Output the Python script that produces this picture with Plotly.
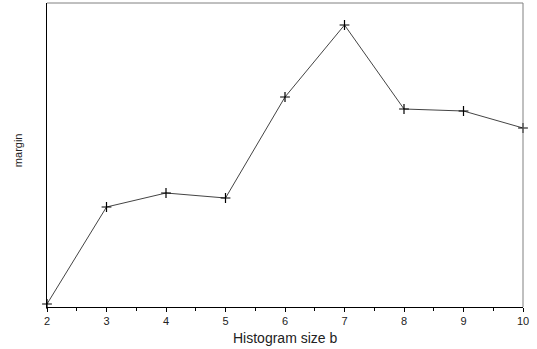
import plotly.graph_objects as go

histogram_size = [2, 3, 4, 5, 6, 7, 8, 9, 10]
margin_values = [0.03, 1.00, 1.14, 1.09, 2.10, 2.82, 1.98, 1.96, 1.79]
x_ticks = [2, 3, 4, 5, 6, 7, 8, 9, 10]

fig = go.Figure()
fig.add_trace(go.Scatter(
    x=histogram_size, y=margin_values, mode="lines+markers",
    line=dict(color="#444444", width=1),
    marker=dict(symbol="cross-thin", size=7, line=dict(color="black", width=1.2)),
    cliponaxis=False,
))

fig.update_layout(
    width=537, height=349,
    margin=dict(l=47, r=14, t=3, b=42, autoexpand=False),
    paper_bgcolor="white", plot_bgcolor="white",
    showlegend=False,
    font=dict(family="Liberation Sans, Arial, sans-serif", color="black"),
    xaxis=dict(
        range=[2, 10], tickvals=x_ticks, ticks="outside", ticklen=4, tickwidth=1,
        tickcolor="black", showgrid=False, zeroline=False,
        showline=True, linecolor="black", linewidth=1, mirror=False,
        tickfont=dict(size=11, color="#222222"), ticklabelstandoff=0,
        minor=dict(dtick=0.5, tick0=2, ticks="outside", ticklen=3, tickcolor="black", showgrid=False),
    ),
    yaxis=dict(
        range=[0, 3.04], showticklabels=False, ticks="", showgrid=False, zeroline=False,
        showline=True, linecolor="black", linewidth=1, mirror=False,
    ),
    shapes=[
        dict(type="line", xref="paper", yref="paper", x0=0, x1=1, y0=1, y1=1,
             line=dict(color="#808080", width=1)),
        dict(type="line", xref="paper", yref="paper", x0=1, x1=1, y0=0, y1=1,
             line=dict(color="#808080", width=1)),
    ],
    annotations=[
        dict(text="Histogram size b", xref="paper", yref="paper", x=0.5, y=0,
             yshift=-31, yanchor="middle", xanchor="center", showarrow=False,
             font=dict(size=14, color="#222222")),
        dict(text="margin", xref="paper", yref="paper", x=0, y=0.516, xshift=-29,
             xanchor="center", yanchor="middle", textangle=-90, showarrow=False,
             font=dict(size=11, color="#222222")),
    ],
)

fig.write_html("out.html", config={"displayModeBar": False},
               post_script="document.body.style.margin='0';document.body.style.padding='0';")
